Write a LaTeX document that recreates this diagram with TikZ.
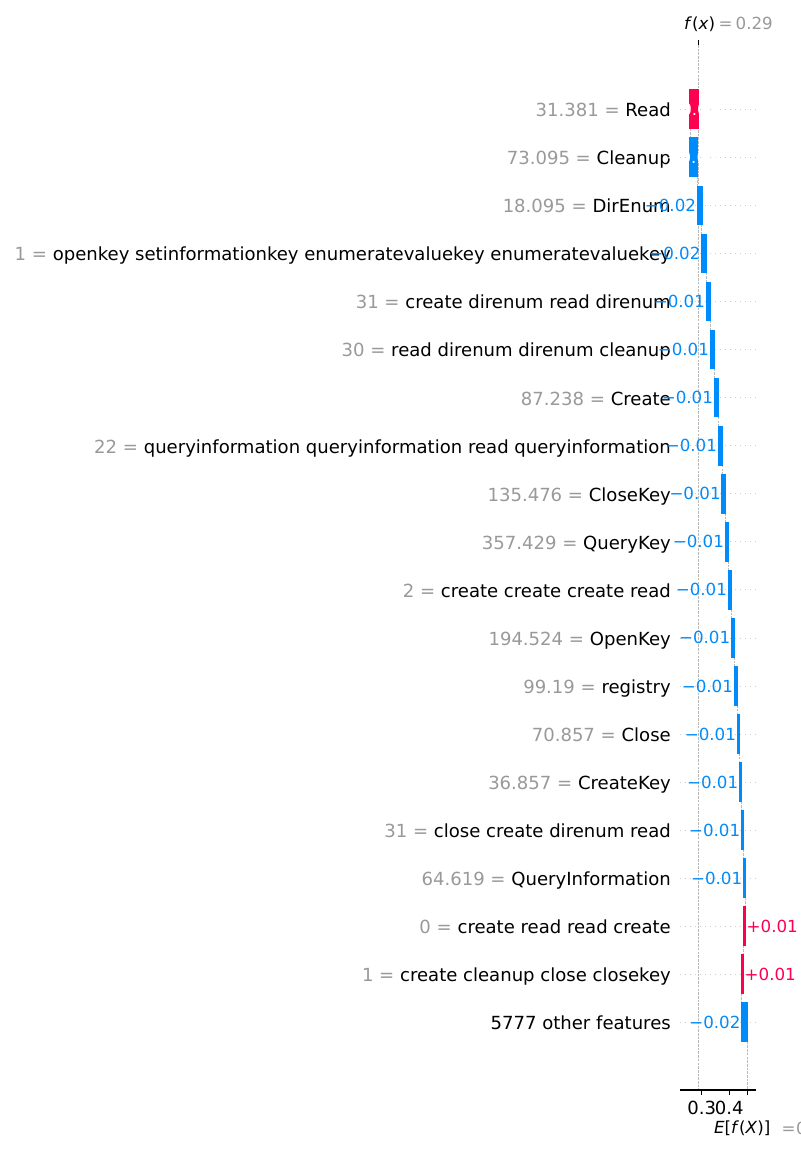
\documentclass[tikz,border=0pt]{standalone}
\usepackage{fontspec}
\setmainfont{DejaVu Sans}[ItalicFont={DejaVu Sans Oblique}]
\definecolor{shapred}{HTML}{FF0051}
\definecolor{shapblue}{HTML}{008BFB}
\definecolor{lblgray}{HTML}{999999}
\definecolor{dotgray}{HTML}{CCCCCC}
\definecolor{dashgray}{HTML}{BBBBBB}
\tikzset{
  ylab/.style={inner sep=0pt, anchor=base east, font=\fontsize{18.06}{20}\selectfont},
  vlab/.style={inner sep=0pt, font=\fontsize{16.67}{20}\selectfont},
  ticklab/.style={inner sep=0pt, anchor=base, font=\fontsize{18.06}{20}\selectfont},
  mathlab/.style={inner sep=0pt, anchor=base west, font=\fontsize{16.67}{20}\selectfont},
  barshape/.style={line width=1.39pt},
  rowline/.style={draw=dotgray, line width=0.69pt, dash pattern=on 0.8pt off 4.2pt},
  guideline/.style={draw=dashgray, line width=0.69pt, dash pattern=on 2.6pt off 1.1pt},
  spine/.style={line width=1.1pt, draw=black},
}
\def\cv{{698.7,690.0,697.4,701.8,706.3,710.3,714.3,718.3,722.0,725.3,728.3,731.6,734.3,737.3,739.6,741.6,743.6,745.6,743.6,741.8,746.8}}
\begin{document}
\begin{tikzpicture}[x=1pt,y=-1pt]
\useasboundingbox (0,0) rectangle (800,1150);

% horizontal dotted row lines
\foreach \i in {0,...,19}{
  \pgfmathsetmacro\Y{109.3+48.05*\i}
  \draw[rowline] (680,\Y) -- (756,\Y);
}
% vertical guide lines
\coordinate (fxtop) at (698.7,45);
\coordinate (fxbot) at (698.7,1090);
\draw[guideline] (fxtop) -- (fxbot);
\coordinate (eftop) at (747.3,1038);
\coordinate (efbot) at (747.3,1090);
\draw[guideline] (eftop) -- (efbot);
% connectors between bars
\foreach \i in {0,...,18}{
  \pgfmathsetmacro\Y{109.3+48.05*\i}
  \pgfmathsetmacro\cb{\cv[\i+1]}
  \draw[guideline] (\cb,\Y+19.2) -- (\cb,\Y+48.05-19.2);
}

% bars
\foreach \i/\col in {0/shapred,1/shapblue,2/shapblue,3/shapblue,4/shapblue,5/shapblue,6/shapblue,7/shapblue,8/shapblue,9/shapblue,10/shapblue,11/shapblue,12/shapblue,13/shapblue,14/shapblue,15/shapblue,16/shapblue,17/shapred,18/shapred,19/shapblue}{
  \pgfmathsetmacro\Y{109.3+48.05*\i}
  \pgfmathsetmacro\ca{\cv[\i]}
  \pgfmathsetmacro\cb{\cv[\i+1]}
  \filldraw[barshape, fill=\col, draw=\col] (\cb,\Y-19.2) rectangle (\ca,\Y+19.2);
}

% feature labels
\foreach \i/\pre/\nm in {0/31.381/Read,1/73.095/Cleanup,2/18.095/DirEnum,3/1/openkey setinformationkey enumeratevaluekey enumeratevaluekey,4/31/create direnum read direnum,5/30/read direnum direnum cleanup,6/87.238/Create,7/22/queryinformation queryinformation read queryinformation,8/135.476/CloseKey,9/357.429/QueryKey,10/2/create create create read,11/194.524/OpenKey,12/99.19/registry,13/70.857/Close,14/36.857/CreateKey,15/31/close create direnum read,16/64.619/QueryInformation,17/0/create read read create,18/1/create cleanup close closekey}{
  \pgfmathsetmacro\Y{109.3+48.05*\i}
  \node[ylab] (lab\i) at (671,\Y+7.4) {\textcolor{lblgray}{\pre{} = }\nm};
}
\node[ylab] (lab19) at (671,109.3+48.05*19+7.4) {5777 other features};

% value labels
\foreach \i/\t in {2/−0.02,3/−0.02,4/−0.01,5/−0.01,6/−0.01,7/−0.01,8/−0.01,9/−0.01,10/−0.01,11/−0.01,12/−0.01,13/−0.01,14/−0.01,15/−0.01,16/−0.01,19/−0.02}{
  \pgfmathsetmacro\Y{109.3+48.05*\i}
  \pgfmathsetmacro\ca{\cv[\i]}
  \node[vlab, text=shapblue, anchor=base east] (val\i) at (\ca-1.2,\Y+6.1) {\t};
}
\foreach \i/\t in {17/+0.01,18/+0.01}{
  \pgfmathsetmacro\Y{109.3+48.05*\i}
  \pgfmathsetmacro\ca{\cv[\i]}
  \node[vlab, text=shapred, anchor=base west] (val\i) at (\ca+0.9,\Y+6.1) {\t};
}
\foreach \i/\t in {0/+0.03,1/−0.03}{
  \pgfmathsetmacro\Y{109.3+48.05*\i}
  \pgfmathsetmacro\ca{\cv[\i]}
  \pgfmathsetmacro\cb{\cv[\i+1]}
  \pgfmathsetmacro\cm{(\ca+\cb)/2-1.5}
  \node[vlab, text=white, anchor=base] (val\i) at (\cm,\Y+6.1) {\t};
}

% bottom axis
\coordinate (axl) at (680,1090);
\coordinate (axr) at (756,1090);
\draw[spine] (axl) -- (axr);
\foreach \xx/\nm in {701.7/t3,729.3/t4,747.3/te}{
  \coordinate (\nm) at (\xx,1090);
  \draw[spine] (\nm) -- ++(0,4.9);
}
\node[ticklab] (tl3) at (701.7,1114) {0.3};
\node[ticklab] (tl4) at (729.3,1114) {0.4};
\node[mathlab] (eflab) at (714,1133) {\textit{E}[\textit{f}(\textit{X})]};
\node[mathlab, text=lblgray] (efval) at (781.5,1134.4) {=\kern0.5pt0.465};

% top f(x) tick
\coordinate (fxtick) at (698.7,45);
\draw[spine] (fxtick) -- ++(0,-4.9);
\node[mathlab] (fxlab) at (684,30) {\textit{f}(\textit{x})};
\node[mathlab, text=lblgray] (fxval) at (718.5,30) {=\kern3pt0.29};
\end{tikzpicture}
\end{document}
